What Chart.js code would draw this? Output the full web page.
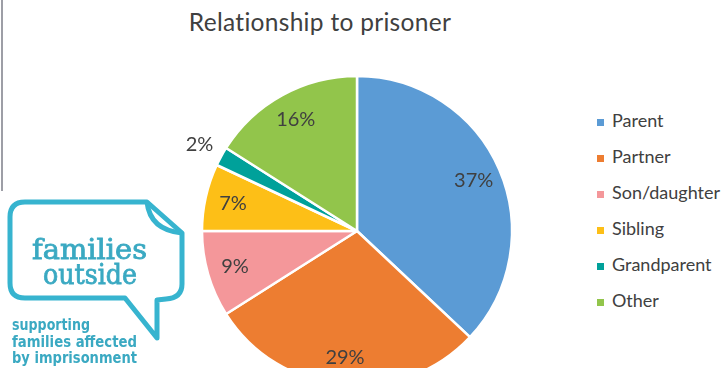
<!DOCTYPE html>
<html>
<head>
<meta charset="utf-8">
<script src="https://cdn.jsdelivr.net/npm/chart.js@4.4.0/dist/chart.umd.min.js"></script>
<style>
  html, body { margin: 0; padding: 0; width: 724px; height: 368px; overflow: hidden; background: #fff; font-family: Lato, sans-serif; }
  #edge { position: absolute; left: 1px; top: 0; width: 2px; height: 191px; background: #9d9ea6; }
  #title { position: absolute; left: 0; width: 640px; top: 7px; text-align: center; font-size: 24.5px; letter-spacing: 0.3px; color: #404040; }
  #wrap { position: absolute; left: 157px; top: 31px; width: 400px; height: 400px; }
  #legend { position: absolute; left: 597px; top: 102px; margin: 0; padding: 0; list-style: none; white-space: nowrap; }
  #legend li { height: 36px; line-height: 36px; font-size: 18px; color: #404040; }
  #legend span { display: inline-block; width: 7px; height: 7px; margin-right: 8px; vertical-align: 1px; }
  #logo { position: absolute; left: 0; top: 190px; }
</style>
</head>
<body>
<div id="edge"></div>
<div id="title">Relationship to prisoner</div>
<div id="wrap"><canvas id="pie"></canvas></div>
<ul id="legend"></ul>

<svg id="logo" width="190" height="178" viewBox="0 0 190 178">
  <g fill="none" stroke="#37b4cf" stroke-width="5" stroke-linejoin="round">
    <path d="M25 12 H147 L182 43 V94 Q182 108 166 109 L157 110 V148 L125 108 H25 Q10 108 10 93 V27 Q10 12 25 12 Z"/>
    <path d="M147 12 Q150 40 182 43"/>
  </g>
  <g fill="#3aa9c2" stroke="#3aa9c2" stroke-width="0.8" font-family="DejaVu Serif">
    <text x="32" y="69" font-size="27" textLength="115" lengthAdjust="spacingAndGlyphs">families</text>
    <text x="43" y="94" font-size="28" textLength="94" lengthAdjust="spacingAndGlyphs">outside</text>
  </g>
  <g fill="#3aa9c2" font-family="DejaVu Sans" font-weight="bold" font-size="15">
    <text x="12" y="140" textLength="78" lengthAdjust="spacingAndGlyphs">supporting</text>
    <text x="12" y="157" textLength="125" lengthAdjust="spacingAndGlyphs">families affected</text>
    <text x="12" y="173" textLength="125" lengthAdjust="spacingAndGlyphs">by imprisonment</text>
  </g>
</svg>

<script>
const relations = ['Parent', 'Partner', 'Son/daughter', 'Sibling', 'Grandparent', 'Other'];
const shares = [37, 29, 9, 7, 2, 16];
const sliceColors = ['#5b9bd5', '#ed7d31', '#f4979a', '#fdbf17', '#00a19a', '#92c54b'];

// legend list on the right
const legend = document.getElementById('legend');
relations.forEach((name, i) => {
  const li = document.createElement('li');
  li.innerHTML = `<span style="background:${sliceColors[i]}"></span>${name}`;
  legend.appendChild(li);
});

// percentage labels: inside the slice, small slices get theirs outside
const pctLabels = {
  id: 'pctLabels',
  afterDatasetsDraw(chart) {
    const ctx = chart.ctx;
    const meta = chart.getDatasetMeta(0);
    ctx.save();
    ctx.font = '20px Lato';
    ctx.fillStyle = '#404040';
    ctx.textAlign = 'center';
    ctx.textBaseline = 'middle';
    meta.data.forEach((arc, i) => {
      const { x, y, startAngle, endAngle, outerRadius } =
        arc.getProps(['x', 'y', 'startAngle', 'endAngle', 'outerRadius'], true);
      const mid = (startAngle + endAngle) / 2;
      const r = outerRadius * (shares[i] < 5 ? 1.16 : 0.82);
      ctx.fillText(shares[i] + '%', x + Math.cos(mid) * r, y + Math.sin(mid) * r);
    });
    ctx.restore();
  }
};

new Chart(document.getElementById('pie'), {
  type: 'pie',
  data: {
    labels: relations,
    datasets: [{
      data: shares,
      backgroundColor: sliceColors,
      borderColor: '#ffffff',
      borderWidth: 2.5,
      hoverOffset: 0
    }]
  },
  options: {
    responsive: true,
    maintainAspectRatio: false,
    animation: false,
    radius: 155,
    layout: { padding: 0 },
    plugins: {
      legend: { display: false },
      tooltip: { enabled: false }
    }
  },
  plugins: [pctLabels]
});
</script>
</body>
</html>
